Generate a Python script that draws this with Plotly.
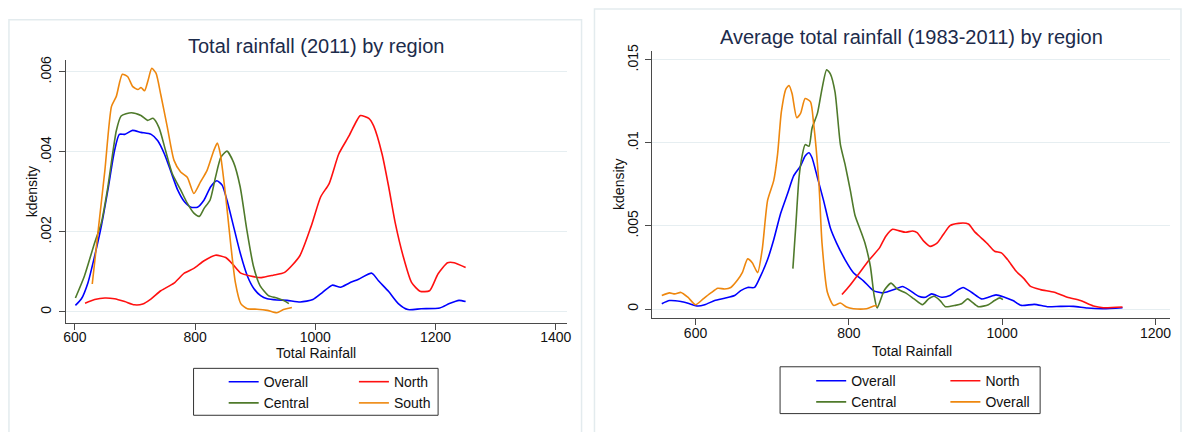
import plotly.graph_objects as go

# ---------------- Left panel: Total rainfall (2011) ----------------
l_overall_x = [601, 611, 622, 633, 644, 655, 666, 674, 683, 696, 710, 727, 738, 749, 760, 771, 782, 793, 804,
               815, 826, 836, 845, 853, 864, 875, 887, 898, 909, 920, 936, 953, 975, 996, 1012, 1028, 1042,
               1056, 1072, 1094, 1105, 1122, 1138, 1154, 1176, 1207, 1223, 1239, 1250]
l_overall_y = [.000165, .00033, .00074, .0014, .00214, .00305, .00403, .00444, .00444, .00454, .00449, .00444,
               .00428, .00395, .0035, .00305, .00276, .00262, .00262, .0028, .00313, .00328, .00317, .0028,
               .00214, .00148, .0009, .00058, .00041, .00033, .0003, .00029, .00025, .00031, .00049, .00067,
               .00062, .00072, .00082, .00097, .00078, .00051, .00021, .00006, .00008, .0001, .00021, .00029,
               .00026]

l_north_x = [617, 633, 650, 666, 683, 699, 713, 727, 743, 765, 782, 798, 815, 834, 851, 864, 876, 892, 910,
             930, 949, 974, 993, 1009, 1023, 1039, 1056, 1067, 1075, 1089, 1097, 1111, 1122, 1133, 1146, 1160,
             1174, 1190, 1204, 1220, 1231, 1250]
l_north_y = [.00022, .00031, .00035, .00033, .00026, .00018, .0002, .00033, .00053, .00072, .00097, .00109,
             .00128, .00142, .00136, .00117, .00097, .0009, .00086, .00092, .00099, .0014, .00214, .00288,
             .00321, .00395, .0044, .00473, .00491, .00484, .00465, .00395, .00313, .00222, .0014, .00074,
             .00052, .00053, .00095, .00123, .00123, .00111]

l_central_x = [601, 616, 633, 644, 655, 669, 677, 694, 710, 721, 730, 740, 751, 762, 776, 787, 798, 807, 815,
               825, 834, 843, 853, 864, 875, 886, 897, 908, 922, 936, 947, 956]
l_central_y = [.00035, .0009, .00173, .00222, .00313, .00453, .0049, .00498, .00491, .00479, .00484, .00461,
               .00403, .00346, .00305, .00272, .00247, .00239, .00259, .0028, .00337, .00387, .00402, .00374,
               .00313, .00206, .00115, .00066, .00041, .00035, .00029, .00021]

l_south_x = [629, 639, 650, 661, 669, 679, 688, 696, 705, 710, 716, 722, 728, 735, 743, 754, 765, 776, 787,
             798, 809, 820, 831, 837, 842, 851, 859, 867, 876, 887, 903, 920, 936, 947, 961]
l_south_y = [.0007, .00206, .00354, .00514, .00539, .00594, .00588, .00564, .00556, .00561, .00553, .0058,
             .00609, .00597, .00543, .00461, .00379, .0035, .00337, .00296, .00325, .00354, .00403, .00422,
             .00395, .00288, .00173, .00074, .00021, .00008, .00007, .00004, -.00002, .00006, .00011]

# ---------------- Right panel: Average total rainfall (1983-2011) ----------------
r_overall_x = [556, 566, 581, 592, 603, 612, 625, 638, 651, 659, 668, 677, 685, 694, 702, 711, 720, 728, 737,
               743, 748, 752, 759, 767, 776, 784, 795, 806, 819, 832, 843, 848, 861, 870, 880, 891, 900, 908,
               921, 932, 941, 949, 960, 973, 982, 992, 1003, 1014, 1025, 1042, 1059, 1076, 1093, 1111, 1132,
               1157]
r_overall_y = [.00032, .00051, .00045, .00032, .00018, .00026, .00051, .00065, .00081, .00111, .0013, .0013,
               .002, .00298, .00417, .00575, .00694, .00802, .00862, .00921, .00941, .00911, .00792, .00654,
               .00486, .00397, .00298, .00219, .0017, .00111, .00097, .00101, .00121, .00136, .00111, .00077,
               .00071, .00091, .00071, .00081, .00111, .0013, .00101, .00061, .00071, .00085, .00071, .00051,
               .00022, .00028, .00014, .00016, .00016, .00006, .00002, .00008]

r_north_x = [791, 801, 814, 827, 840, 848, 857, 865, 874, 883, 889, 898, 906, 915, 923, 932, 943, 956, 964,
             973, 982, 990, 999, 1007, 1018, 1029, 1037, 1050, 1068, 1085, 1102, 1119, 1132, 1157]
r_north_y = [.00087, .0014, .00219, .00298, .00368, .00437, .0048, .00472, .00462, .0047, .0046, .00407,
             .00377, .00397, .00447, .00502, .00516, .00512, .00466, .00427, .00387, .00348, .00338, .00298,
             .00229, .0018, .00136, .00117, .00101, .00071, .00051, .00018, .00008, .00012]

r_central_x = [727, 731, 735, 739, 743, 748, 752, 759, 765, 771, 776, 782, 789, 795, 802, 808, 815, 821, 828,
               833, 837, 846, 855, 863, 874, 885, 896, 904, 911, 919, 926, 939, 947, 955, 960, 969, 982, 990,
               997, 1001]
r_central_y = [.00243, .00516, .00792, .00921, .0099, .0098, .01089, .01178, .01326, .01441, .01415, .01306,
               .0099, .00872, .00713, .00565, .00476, .00397, .00259, .00081, .00006, .00111, .00156, .00121,
               .00097, .00061, .00026, .00061, .00077, .00051, .00014, .00022, .00032, .00061, .00045, .00014,
               .00026, .00051, .00067, .00057]

r_overall2_x = [556, 566, 573, 581, 590, 600, 610, 620, 629, 638, 646, 655, 661, 668, 674, 681, 687, 694, 702,
                707, 712, 718, 722, 726, 732, 737, 743, 750, 754, 761, 765, 772, 780, 789, 797, 806, 823, 834,
                837]
r_overall2_y = [.00081, .00097, .00091, .001, .00071, .00026, .00061, .00097, .00125, .00121, .0013, .00176,
                .00219, .00302, .00279, .00219, .00358, .00654, .00773, .00931, .01188, .01326, .01346, .01296,
                .01152, .01178, .01267, .01247, .01119, .00753, .00397, .00101, .00022, .00036, .00012, .00002,
                .00002, .0002, .00018]

l_yticks = [0, .002, .004, .006]
l_yticklabels = ["0", ".002", ".004", ".006"]
r_yticks = [0, .005, .01, .015]
r_yticklabels = ["0", ".005", ".01", ".015"]
l_xticks = [600, 800, 1000, 1200, 1400]
r_xticks = [600, 800, 1000, 1200]

BLUE = "#0000ff"
RED = "#ff1010"
GREEN = "#4f7a2b"
ORANGE = "#ee870e"
FONT = "Liberation Sans, Arial, sans-serif"
W, H = 1184, 432

fig = go.Figure()

def add(x, y, name, color, xa, ya, legend):
    fig.add_trace(go.Scatter(x=x, y=y, mode="lines", name=name, xaxis=xa, yaxis=ya,
                             line=dict(color=color, width=1.6, shape="spline", smoothing=0.6),
                             legend=legend))

add(l_overall_x, l_overall_y, "Overall", BLUE, "x", "y", "legend")
add(l_north_x, l_north_y, "North", RED, "x", "y", "legend2")
add(l_central_x, l_central_y, "Central", GREEN, "x", "y", "legend")
add(l_south_x, l_south_y, "South", ORANGE, "x", "y", "legend2")

add(r_overall_x, r_overall_y, "Overall", BLUE, "x2", "y2", "legend3")
add(r_north_x, r_north_y, "North", RED, "x2", "y2", "legend4")
add(r_central_x, r_central_y, "Central", GREEN, "x2", "y2", "legend3")
add(r_overall2_x, r_overall2_y, "Overall", ORANGE, "x2", "y2", "legend4")

def px(v):
    return v / W

def py(v):
    return 1 - v / H

axis_common = dict(showline=True, linecolor="#4a4a4a", linewidth=1, ticks="outside", ticklen=6,
                   tickcolor="#4a4a4a", zeroline=False, tickfont=dict(family=FONT, size=14, color="#111"))

fig.update_layout(
    width=W, height=H, autosize=False,
    margin=dict(l=0, r=0, t=0, b=0),
    paper_bgcolor="white", plot_bgcolor="white",
    font=dict(family=FONT, size=14, color="#111"),
    xaxis=dict(domain=[px(64), px(568)], range=[584.7, 1418], tickvals=l_xticks, showgrid=False,
               anchor="y", ticklabelstandoff=-4, **axis_common),
    yaxis=dict(domain=[py(320.7), py(54.3)], range=[-0.000263, 0.006288], tickvals=l_yticks,
               ticktext=l_yticklabels, tickangle=-90, showgrid=True, gridcolor="#e6eef1", gridwidth=1,
               anchor="x", ticklabelstandoff=2, **axis_common),
    xaxis2=dict(domain=[px(654), px(1175)], range=[543.4, 1219], tickvals=r_xticks, showgrid=False,
                anchor="y2", ticklabelstandoff=-4, **axis_common),
    yaxis2=dict(domain=[py(316), py(45)], range=[-0.000533, 0.01552], tickvals=r_yticks,
                ticktext=r_yticklabels, tickangle=-90, showgrid=True, gridcolor="#e6eef1", gridwidth=1,
                anchor="x2", ticklabelstandoff=2, **axis_common),
)

leg_common = dict(orientation="v", xanchor="left", yanchor="top", bgcolor="rgba(0,0,0,0)",
                  borderwidth=0, font=dict(family=FONT, size=14, color="#111"), tracegroupgap=0,
                  itemwidth=30)
fig.update_layout(
    legend=dict(x=px(223), y=py(365), **leg_common),
    legend2=dict(x=px(354), y=py(365), **leg_common),
    legend3=dict(x=px(814), y=py(364), **leg_common),
    legend4=dict(x=px(949), y=py(364), **leg_common),
)

TITLE_COLOR = "#1c2b4b"
ann = [
    dict(text="Total rainfall (2011) by region", x=px(316), y=py(40), size=20, color=TITLE_COLOR, angle=0),
    dict(text="Average total rainfall (1983-2011) by region", x=px(915), y=py(30), size=20, color=TITLE_COLOR, angle=0),
    dict(text="Total Rainfall", x=px(316), y=py(352), size=14, color="#111", angle=0),
    dict(text="Total Rainfall", x=px(915), y=py(350), size=14, color="#111", angle=0),
    dict(text="kdensity", x=px(31), y=py(187.5), size=14, color="#111", angle=-90),
    dict(text="kdensity", x=px(620.5), y=py(180), size=14, color="#111", angle=-90),
]
for a in ann:
    fig.add_annotation(text=a["text"], x=a["x"], y=a["y"], xref="paper", yref="paper",
                       xanchor="center", yanchor="middle", showarrow=False, textangle=a["angle"],
                       font=dict(family=FONT, size=a["size"], color=a["color"]))

shapes = [
    # panel frames
    dict(x0=7, y0=13, x1=583, y1=434, color="#e3ebee", width=1.5),
    dict(x0=596, y0=2, x1=1186, y1=434, color="#e3ebee", width=1.5),
    # legend boxes
    dict(x0=192.7, y0=367.3, x1=438.7, y1=415, color="#333333", width=1),
    dict(x0=782.7, y0=365.7, x1=1044.3, y1=413.3, color="#333333", width=1),
]
for s in shapes:
    fig.add_shape(type="rect", xref="paper", yref="paper", x0=px(s["x0"]), x1=px(s["x1"]),
                  y0=py(s["y1"]), y1=py(s["y0"]), line=dict(color=s["color"], width=s["width"]),
                  fillcolor="rgba(0,0,0,0)", layer="below")

fig.write_html("out.html", config={"displayModeBar": False},
               post_script="document.body.style.margin='0';document.body.style.overflow='hidden';")
